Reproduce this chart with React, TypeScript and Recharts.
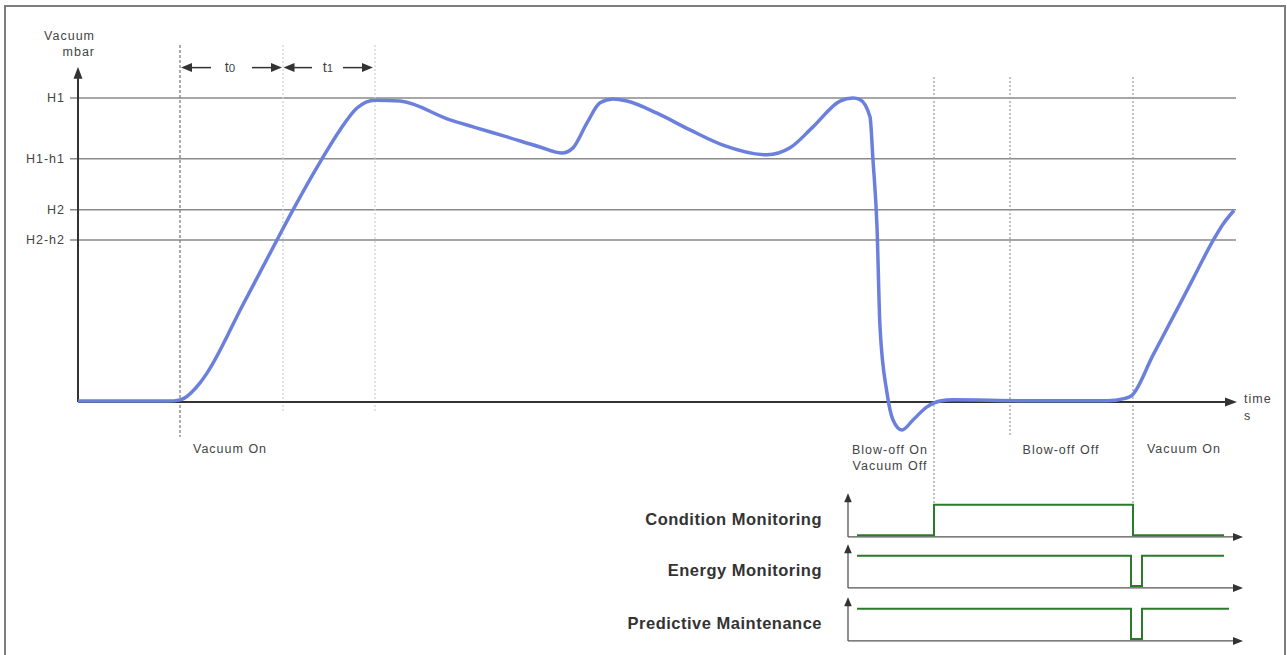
import { LineChart, Line, XAxis, YAxis, ReferenceLine, ReferenceDot } from 'recharts'

// vacuum curve (time in arbitrary units, vacuum in % of H1)
const time = [0, 9, 10.2, 12.2, 12.9, 16.4, 19.9, 21.5, 24.4, 26.2, 27.9, 29.7, 32.2, 37.2, 39.5, 42.9, 46.2, 48.4, 49.5, 50.9, 52.2, 53.5, 54.9, 57.9, 61.2, 64.5, 68.9, 71.2, 73.5, 76.2, 77.5, 78.2, 79.2, 79.5, 79.9, 80.2, 80.9, 81.5, 82.4, 83.5, 84.9, 86.2, 87.5, 95, 102.9, 104.6, 105.4, 107.5, 109.5, 111.5, 113.5, 114.5, 115.6]
const vacuum = [0.3, 0.3, 0.7, 6.3, 9.5, 31.4, 53.3, 63.2, 80, 89.5, 96.7, 99.3, 99, 92.8, 90.5, 87.2, 83.9, 81.9, 83.6, 91.8, 98.4, 99.7, 99, 95, 89.5, 84.5, 81.3, 83.6, 90.5, 99, 100, 99.5, 93.8, 79.6, 57.6, 24.7, 3, -5.9, -9.2, -5.9, -1.6, 0.3, 0.7, 0.4, 0.4, 1.1, 2.2, 15.4, 27.9, 40.5, 53.1, 58.5, 63]

const levelValues = [100, 80, 63.2, 53.3]
const levelLabels = ['H1', 'H1-h1', 'H2', 'H2-h2']

const conditionTimes = [77.9, 85.6, 105.5, 114.6]
const conditionValues = [0.05, 1, 0.05, 0.05]
const energyTimes = [77.9, 105.3, 106.4, 114.6]
const energyValues = [1, 0.06, 1, 1]
const predictiveTimes = [77.9, 105.3, 106.4, 115.1]
const predictiveValues = [1, 0.06, 1, 1]

const FONT = '"Liberation Sans", Arial, sans-serif'
const BLUE = '#6b80dc'
const GREEN = '#2b7a2b'
const AXIS = '#333'

type Dir = 'up' | 'left' | 'right'

function arrow(dir: Dir, len = 12, half = 4.5, color = AXIS) {
  return (p: any) => {
    const { cx, cy } = p
    let pts = ''
    if (dir === 'up') pts = `${cx},${cy} ${cx - half},${cy + len} ${cx + half},${cy + len}`
    if (dir === 'right') pts = `${cx},${cy} ${cx - len},${cy - half} ${cx - len},${cy + half}`
    if (dir === 'left') pts = `${cx},${cy} ${cx + len},${cy - half} ${cx + len},${cy + half}`
    return <polygon points={pts} fill={color} />
  }
}

function label(text: string, anchor: 'start' | 'middle' | 'end' = 'middle', size = 12.5, weight = 400, color = '#444', spacing = 1) {
  return (p: any) => (
    <text
      x={p.cx}
      y={p.cy}
      dy="0.35em"
      textAnchor={anchor}
      fontSize={size}
      fontWeight={weight}
      fill={color}
      fontFamily={FONT}
      letterSpacing={spacing}
    >
      {text}
    </text>
  )
}

function sub(main: string, index: string) {
  return (p: any) => (
    <text x={p.cx} y={p.cy} dy="0.35em" textAnchor="middle" fontSize={14.5} fill="#444" fontFamily={FONT}>
      {main}
      <tspan fontSize={11.5}>{index}</tspan>
    </text>
  )
}

function VacuumChart() {
  const data = time.map((t, i) => ({ t, v: vacuum[i] }))
  const dotted = (x: number, y1: number, y2: number, color: string, dash: string) => (
    <ReferenceLine
      key={`d${x}`}
      segment={[{ x, y: y1 }, { x, y: y2 }]}
      stroke={color}
      strokeWidth={1.2}
      strokeDasharray={dash}
      ifOverflow="visible"
    />
  )
  const dot = (key: string, x: number, y: number, shape: any) => (
    <ReferenceDot key={key} x={x} y={y} r={0} shape={shape} ifOverflow="visible" />
  )
  const hseg = (key: string, x1: number, x2: number, y: number) => (
    <ReferenceLine key={key} segment={[{ x: x1, y }, { x: x2, y }]} stroke={AXIS} strokeWidth={1.5} ifOverflow="visible" />
  )

  return (
    <LineChart width={1287} height={530} data={data} margin={{ top: 22, right: 49, bottom: 6.4, left: 78 }}>
      <XAxis type="number" dataKey="t" domain={[0, 116]} hide />
      <YAxis type="number" domain={[-40, 125]} hide />

      {levelValues.map((v, i) => (
        <ReferenceLine
          key={levelLabels[i]}
          segment={[{ x: -0.8, y: v }, { x: 115.8, y: v }]}
          stroke="#8a8a8a"
          strokeWidth={1.5}
          ifOverflow="visible"
        />
      ))}
      {levelValues.map((v, i) => dot(`l${i}`, -1.3, v, label(levelLabels[i], 'end')))}

      {dotted(10.2, 117.4, -11.5, '#777', '3 2')}
      {dotted(20.5, 117.4, -3.6, '#cfcfcf', '2 2')}
      {dotted(29.7, 117.4, -3.6, '#cfcfcf', '2 2')}
      {dotted(85.6, 106.9, -34, '#999', '2 2')}
      {dotted(93.2, 106.9, -11.5, '#999', '2 2')}
      {dotted(105.5, 106.9, -33.5, '#999', '2 2')}

      {/* axes */}
      <ReferenceLine segment={[{ x: 0, y: 0 }, { x: 0, y: 106.5 }]} stroke={AXIS} strokeWidth={2} ifOverflow="visible" />
      <ReferenceLine segment={[{ x: 0, y: 0 }, { x: 114.8, y: 0 }]} stroke={AXIS} strokeWidth={2} ifOverflow="visible" />
      {dot('ya', 0, 110.3, arrow('up'))}
      {dot('xa', 115.9, 0, arrow('right'))}

      {/* t0 / t1 spans */}
      {hseg('t0a', 10.8, 13.3, 110)}
      {hseg('t0b', 17.4, 19.8, 110)}
      {hseg('t1a', 21.1, 23.4, 110)}
      {hseg('t1b', 26.5, 28.9, 110)}
      {dot('t0l', 10.3, 110, arrow('left', 11, 4.5))}
      {dot('t0r', 20.4, 110, arrow('right', 11, 4.5))}
      {dot('t1l', 20.55, 110, arrow('left', 11, 4.5))}
      {dot('t1r', 29.5, 110, arrow('right', 11, 4.5))}
      {dot('t0', 15.2, 110.3, sub('t', '0'))}
      {dot('t1', 25, 110.3, sub('t', '1'))}

      {dot('yl1', 1.7, 120.5, label('Vacuum', 'end'))}
      {dot('yl2', 1.7, 115.2, label('mbar', 'end'))}
      {dot('xl1', 116.6, 1, label('time', 'start'))}
      {dot('xl2', 116.6, -4.6, label('s', 'start'))}

      {dot('e1', 11.5, -15.5, label('Vacuum On', 'start'))}
      {dot('e2', 81.2, -15.8, label('Blow-off On'))}
      {dot('e3', 81.2, -21, label('Vacuum Off'))}
      {dot('e4', 98.3, -15.8, label('Blow-off Off'))}
      {dot('e5', 110.6, -15.5, label('Vacuum On'))}

      <Line dataKey="v" type="monotone" stroke={BLUE} strokeWidth={3.5} dot={false} isAnimationActive={false} />
    </LineChart>
  )
}

function SignalChart({ times, values, title, top }: { times: number[]; values: number[]; title: string; top: number }) {
  const data = times.map((t, i) => ({ t, v: values[i] }))
  return (
    <div style={{ position: 'absolute', left: 0, top }}>
      <LineChart width={1287} height={53} data={data} margin={{ top: 0, right: 49, bottom: 0, left: 78 }}>
        <XAxis type="number" dataKey="t" domain={[0, 116]} hide />
        <YAxis type="number" domain={[-0.25, 1.4]} hide />
        <ReferenceLine segment={[{ x: 77, y: 0 }, { x: 115.6, y: 0 }]} stroke="#555" strokeWidth={1.3} ifOverflow="visible" />
        <ReferenceLine segment={[{ x: 77, y: 0 }, { x: 77, y: 1.1 }]} stroke="#555" strokeWidth={1.3} ifOverflow="visible" />
        <ReferenceDot x={77} y={1.36} r={0} shape={arrow('up', 9, 3.8, '#333')} ifOverflow="visible" />
        <ReferenceDot x={116.5} y={0} r={0} shape={arrow('right', 10, 4, '#333')} ifOverflow="visible" />
        <ReferenceDot x={74.4} y={0.55} r={0} shape={label(title, 'end', 16.5, 700, '#333', 0.5)} ifOverflow="visible" />
        <Line dataKey="v" type="stepAfter" stroke={GREEN} strokeWidth={2} dot={false} isAnimationActive={false} />
      </LineChart>
    </div>
  )
}

export default function App() {
  return (
    <div style={{ position: 'absolute', left: 0, top: 0, width: 1287, height: 655, overflow: 'hidden', background: '#fff' }}>
      <div
        style={{
          position: 'absolute', left: 4, top: 5, width: 1282, height: 700,
          boxSizing: 'border-box', border: '2px solid #7d7d7d', borderBottom: 'none',
        }}
      />
      <div style={{ position: 'absolute', left: 0, top: 0 }}>
        <VacuumChart />
      </div>
      <SignalChart times={conditionTimes} values={conditionValues} title="Condition Monitoring" top={492} />
      <SignalChart times={energyTimes} values={energyValues} title="Energy Monitoring" top={543} />
      <SignalChart times={predictiveTimes} values={predictiveValues} title="Predictive Maintenance" top={596} />
    </div>
  )
}
